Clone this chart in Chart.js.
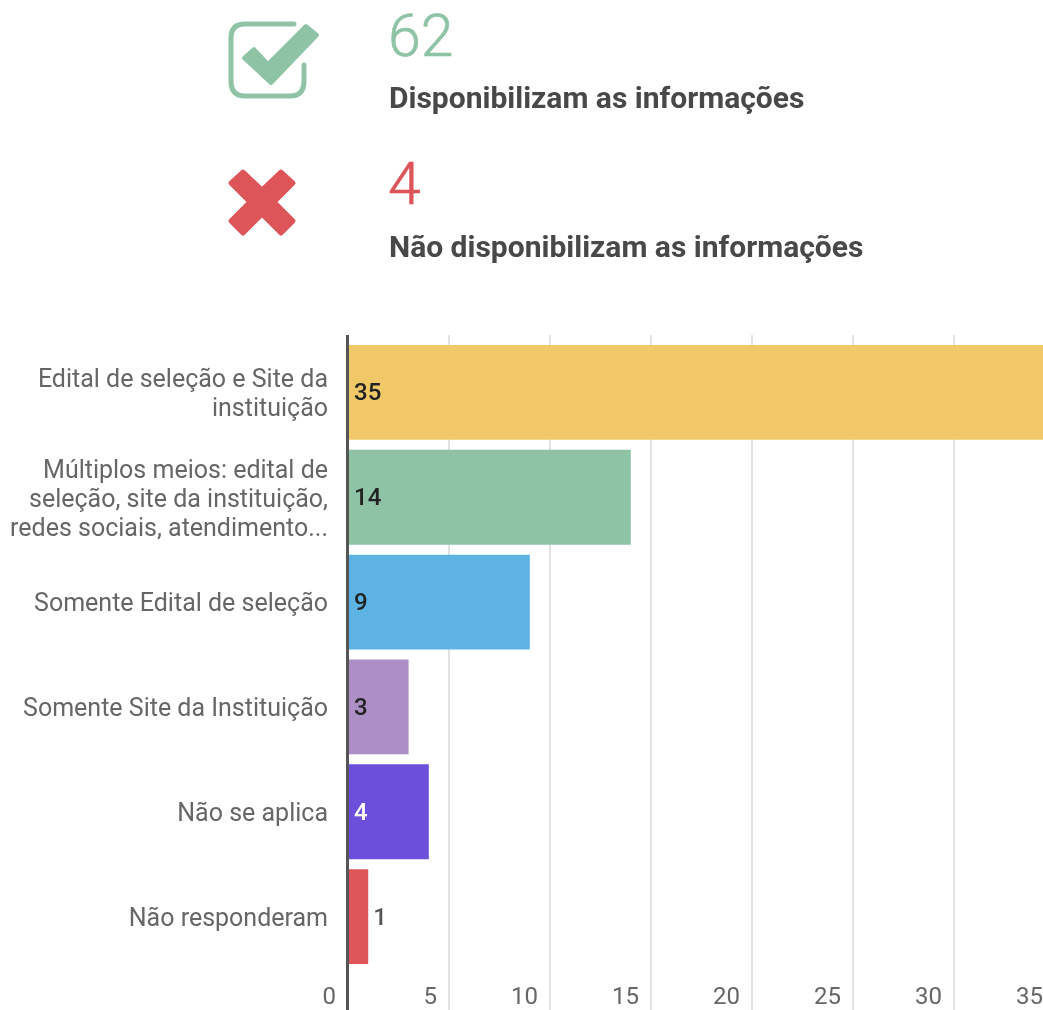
<!DOCTYPE html>
<html><head><meta charset="utf-8">
<script src="https://cdn.jsdelivr.net/npm/chart.js@4/dist/chart.umd.min.js"></script>
<style>
html,body{margin:0;padding:0;background:#fff;overflow:hidden;width:1043px;height:1010px}
#wrap{position:absolute;left:0;top:0;width:1043px;height:1010px;overflow:hidden}
#box{position:absolute;left:0;top:0;width:1100px;height:1010px}
canvas{display:block}
.t{position:absolute;font-family:Roboto,sans-serif;white-space:nowrap;line-height:1}
.num{font-size:59px;font-weight:300;left:388px;-webkit-text-stroke:0.6px currentColor}
.lab{font-size:30px;font-weight:700;color:#484848;left:389px}
svg{position:absolute;left:0;top:0}
</style></head><body>
<div id="wrap">
<div id="box"><canvas id="c" width="1100" height="1010"></canvas></div>
<svg width="1043" height="300">
<path d="M294 24H245Q231 24 231 38V81Q231 96 245 96H290Q304 96 304 81V65" fill="none" stroke="#8fc3a6" stroke-width="5" stroke-linecap="round"/>
<path d="M244 58L254 49L268 64L306 26L317 35L271 83Z" fill="#8fc3a6" stroke="#8fc3a6" stroke-width="4" stroke-linejoin="round"/>
<path d="M243 172L262 190L281 172L293 183L274 202L293 221L281 233L262 214L243 233L231 221L250 202L231 183Z" fill="#dd5459" stroke="#dd5459" stroke-width="5" stroke-linejoin="round"/>
</svg>
<div class="t num" style="top:6px;color:#8fc3a6">62</div>
<div class="t lab" style="top:83px">Disponibilizam as informações</div>
<div class="t num" style="top:154px;color:#dd5459">4</div>
<div class="t lab" style="top:232px">Não disponibilizam as informações</div>
</div>
<script>
const categories=[["Edital de seleção e Site da","instituição"],["Múltiplos meios: edital de","seleção, site da instituição,","redes sociais, atendimento..."],"Somente Edital de seleção","Somente Site da Instituição","Não se aplica","Não responderam"];
const values=[35,14,9,3,4,1];
const barColors=["#f0c868","#8fc3a6","#5cb3e4","#ab8fc5","#6c50dc","#dd5459"];
const labelColors=["#222","#222","#222","#222","#fff","#555"];
const xTicks=[0,5,10,15,20,25,30,35];
const FONT="Roboto, sans-serif";
const decor={id:'decor',
 beforeDraw(ch){const y=ch.scales.y;if(!y._shifted){y._shifted=true;y.getLabelItems(ch.chartArea).forEach(i=>{i.options.translation=[i.options.translation[0],i.options.translation[1]+3];});}},
 beforeDatasetsDraw(ch){const {ctx,scales:{x}}=ch;ctx.save();ctx.strokeStyle='#e2e2e2';ctx.lineWidth=2;
  xTicks.slice(1).forEach(v=>{const p=x.getPixelForValue(v);ctx.beginPath();ctx.moveTo(p,335);ctx.lineTo(p,1010);ctx.stroke();});ctx.restore();},
 afterDatasetsDraw(ch){const {ctx,scales:{x}}=ch;const m=ch.getDatasetMeta(0);ctx.save();
  ctx.strokeStyle='#555';ctx.lineWidth=3;const p=x.getPixelForValue(0)-0.5;ctx.beginPath();ctx.moveTo(p,335);ctx.lineTo(p,1010);ctx.stroke();
  ctx.font='500 24px '+FONT;ctx.textBaseline='middle';ctx.textAlign='left';
  m.data.forEach((b,i)=>{ctx.fillStyle=labelColors[i];const out=values[i]<2;ctx.fillText(String(values[i]),out?b.x+5:x.getPixelForValue(0)+6,b.y+2);});
  ctx.restore();}};
new Chart(document.getElementById('c'),{type:'bar',
 data:{labels:categories,datasets:[{data:values,backgroundColor:barColors,borderWidth:0,barPercentage:0.905,categoryPercentage:1}]},
 plugins:[decor],
 options:{indexAxis:'y',responsive:false,animation:false,devicePixelRatio:1,
  layout:{padding:{top:340,bottom:0,left:0,right:45}},
  plugins:{legend:{display:false},tooltip:{enabled:false}},
  scales:{
   x:{type:'linear',min:0,max:35,position:'bottom',afterFit(s){s.height=41;s.paddingLeft=0;s.paddingRight=0;s.paddingTop=0;s.paddingBottom=0;},
    afterBuildTicks(s){s.ticks=xTicks.map(v=>({value:v}));},
    grid:{display:false,drawTicks:false},border:{display:false},
    ticks:{align:'end',maxRotation:0,autoSkip:false,padding:15,color:'#666',font:{family:FONT,size:24},callback:v=>v+'  '}},
   y:{type:'category',afterFit(s){s.width=348;s.paddingTop=0;s.paddingBottom=0;},grid:{display:false,drawTicks:false},border:{display:false},
    ticks:{padding:20,color:'#666',autoSkip:false,font:{family:FONT,size:25,lineHeight:1.16}}}
  }}});
</script>
</body></html>
